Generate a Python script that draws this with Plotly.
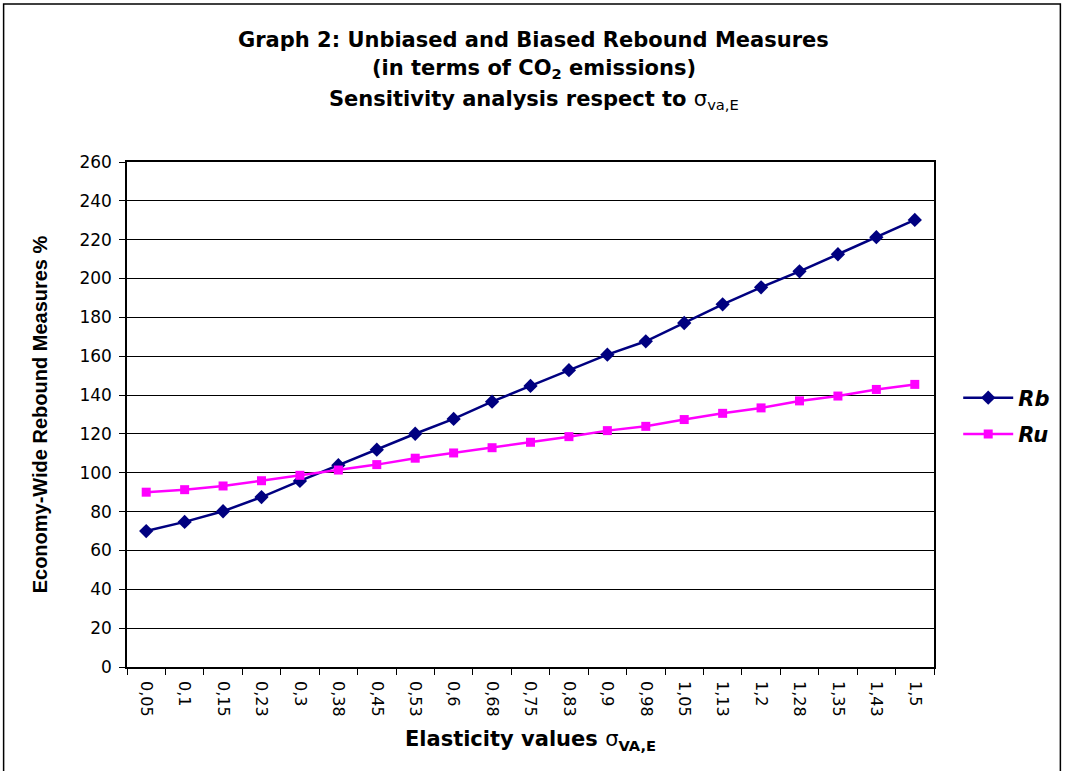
import plotly.graph_objects as go

categories = ["0,05", "0,1", "0,15", "0,23", "0,3", "0,38", "0,45", "0,53", "0,6", "0,68",
              "0,75", "0,83", "0,9", "0,98", "1,05", "1,13", "1,2", "1,28", "1,35", "1,43", "1,5"]
rb_values = [70.0, 74.7, 80.2, 87.5, 95.8, 103.9, 111.9, 120.1, 127.7, 136.6,
             144.7, 152.8, 160.8, 167.7, 177.1, 186.7, 195.5, 203.7, 212.5, 221.3, 230.2]
ru_values = [90.0, 91.3, 93.2, 95.9, 98.7, 101.4, 104.2, 107.5, 110.2, 112.9,
             115.7, 118.6, 121.7, 123.9, 127.4, 130.6, 133.4, 137.0, 139.5, 142.9, 145.5]
y_ticks = list(range(0, 261, 20))

FONT = "DejaVu Sans, Arial, sans-serif"
AFONT = "Liberation Sans, Arial, sans-serif"

fig = go.Figure()
fig.add_trace(go.Scatter(
    x=categories, y=rb_values, name="<b><i>Rb</i></b>", mode="lines+markers",
    line=dict(color="#000080", width=2.5),
    marker=dict(symbol="diamond", size=11, color="#000080"),
    legendgroup="rb",
))
fig.add_trace(go.Scatter(
    x=categories, y=ru_values, name="<b><i>Ru</i></b>", mode="lines+markers",
    line=dict(color="#FF00FF", width=2.5),
    marker=dict(symbol="square", size=9, color="#FF00FF"),
    legendgroup="ru",
))

fig.update_layout(
    width=1067, height=771,
    margin=dict(l=127, r=129, t=162, b=104),
    paper_bgcolor="white", plot_bgcolor="white",
    font=dict(family=FONT, color="black", size=15),
    showlegend=True,
    legend=dict(x=1.03, y=0.497, xanchor="left", yanchor="middle",
                font=dict(size=21, family=FONT, color="black"),
                tracegroupgap=6, itemwidth=50, bgcolor="rgba(0,0,0,0)"),
    xaxis=dict(
        type="category", tickangle=90, showgrid=False,
        showline=True, linecolor="black", linewidth=1.5, mirror=True,
        ticks="outside", tickson="boundaries", ticklen=6, tickcolor="black",
        ticklabelstandoff=9,
        tickfont=dict(size=16, family=FONT, color="black"),
        range=[-0.5, len(categories) - 0.5],
        title=dict(text="<b>Elasticity values </b>σ<sub><b>VA,E</b></sub>",
                   font=dict(size=21, family=FONT, color="black"), standoff=16),
    ),
    yaxis=dict(
        range=[0, 260], tickvals=y_ticks, showgrid=True, gridcolor="black", gridwidth=1,
        showline=True, linecolor="black", linewidth=1.5, mirror=True,
        ticks="outside", ticklen=6, tickcolor="black", zeroline=False,
        ticklabelstandoff=4,
        tickfont=dict(size=17, family=FONT, color="black"),
        title=dict(text="<b>Economy-Wide Rebound Measures %</b>",
                   font=dict(size=20, family=AFONT, color="black"), standoff=26),
    ),
)

title_lines = [
    ("<b>Graph 2: Unbiased and Biased Rebound Measures</b>", 40),
    ("<b>(in terms of CO<sub>2</sub> emissions)</b>", 69),
    ("<b>Sensitivity analysis respect to </b>σ<sub>va,E</sub>", 100),
]
for text, ypix in title_lines:
    fig.add_annotation(
        text=text, xref="paper", yref="paper",
        x=(536 - 127) / 811, y=(667 - ypix) / 505,
        xanchor="center", yanchor="middle", showarrow=False,
        font=dict(size=21, family=FONT, color="black"),
    )

# outer chart border
fig.add_shape(type="rect", xref="paper", yref="paper",
              x0=(3 - 127) / 811, x1=(1065 - 127) / 811,
              y0=(667 - 775) / 505, y1=(667 - 4) / 505,
              line=dict(color="black", width=1.5), layer="below")

fig.write_html("out.html", config={"displayModeBar": False},
               post_script="document.body.style.margin='0';")
